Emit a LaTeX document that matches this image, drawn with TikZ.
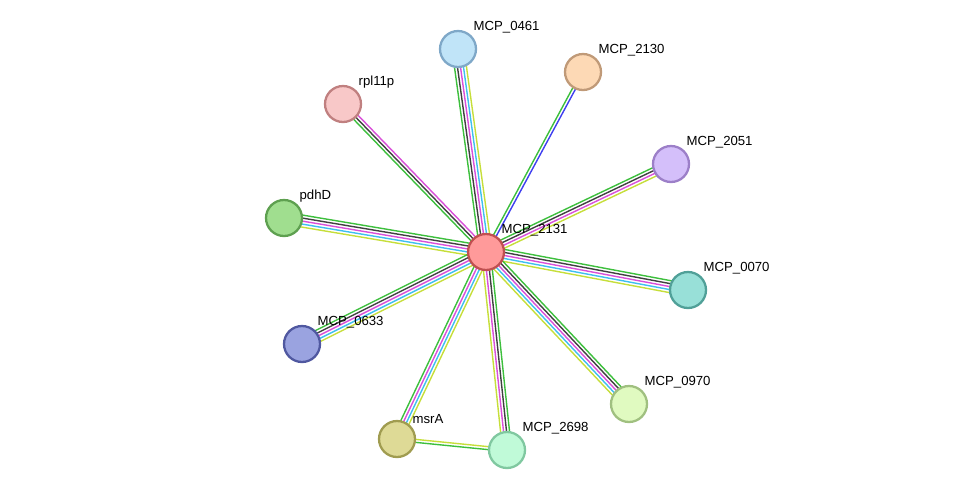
\documentclass[tikz,border=0pt]{standalone}
\usepackage{fontspec}
\setmainfont{Liberation Sans}
\usetikzlibrary{calc, backgrounds}
\definecolor{cgreen}{HTML}{3DBF3D}
\definecolor{cblack}{HTML}{404040}
\definecolor{cmag}{HTML}{D94FD9}
\definecolor{ccyan}{HTML}{3FBFEF}
\definecolor{cyel}{HTML}{C6DE3A}
\definecolor{cblue}{HTML}{3F3FEF}
\newcommand{\stredge}[4]{%
  \foreach \c [count=\i] in {#4} {
    \pgfmathsetmacro{\off}{(\i-(#3+1)/2)*1.7}
    \draw[\c, line width=0.8pt] ($(#1)!\off pt!90:(#2)$) -- ($(#2)!\off pt!-90:(#1)$);
  }}
\begin{document}
\begin{tikzpicture}[x=0.02cm, y=-0.02cm]
      \tikzset{prot/.style = {shape=circle, draw, line width=1.3pt, minimum size=0.72cm, inner sep=0pt}}
      \tikzset{lbl/.style = {font=\fontsize{7.5}{9}\selectfont, anchor=south west, inner sep=1pt}}
      \useasboundingbox (0,0) rectangle (976,495);
      \node[prot, fill={rgb,255:red,255;green,154;blue,154}, draw={rgb,255:red,192;green,80;blue,80}, label={[lbl]45:MCP\_2131}] (c) at (486, 252) {};
      \node[prot, fill={rgb,255:red,192;green,228;blue,248}, draw={rgb,255:red,127;green,168;blue,200}, label={[lbl]45:MCP\_0461}] (p0461) at (458, 49) {};
      \node[prot, fill={rgb,255:red,253;green,217;blue,181}, draw={rgb,255:red,192;green,154;blue,120}, label={[lbl]45:MCP\_2130}] (p2130) at (583, 72) {};
      \node[prot, fill={rgb,255:red,248;green,200;blue,200}, draw={rgb,255:red,192;green,128;blue,128}, label={[lbl]45:rpl11p}] (rpl) at (343, 104) {};
      \node[prot, fill={rgb,255:red,212;green,191;blue,250}, draw={rgb,255:red,156;green,127;blue,200}, label={[lbl]45:MCP\_2051}] (p2051) at (671, 164) {};
      \node[prot, fill={rgb,255:red,160;green,222;blue,143}, draw={rgb,255:red,94;green,160;blue,80}, label={[lbl]45:pdhD}] (pdh) at (284, 218) {};
      \node[prot, fill={rgb,255:red,152;green,224;blue,216}, draw={rgb,255:red,80;green,160;blue,152}, label={[lbl]45:MCP\_0070}] (p0070) at (688, 290) {};
      \node[prot, fill={rgb,255:red,154;green,163;blue,224}, draw={rgb,255:red,80;green,88;blue,160}, label={[lbl]45:MCP\_0633}] (p0633) at (302, 344) {};
      \node[prot, fill={rgb,255:red,224;green,250;blue,192}, draw={rgb,255:red,160;green,192;blue,128}, label={[lbl]45:MCP\_0970}] (p0970) at (629, 404) {};
      \node[prot, fill={rgb,255:red,222;green,218;blue,150}, draw={rgb,255:red,160;green,156;blue,80}, label={[lbl]45:msrA}] (msr) at (397, 439) {};
      \node[prot, fill={rgb,255:red,192;green,250;blue,216}, draw={rgb,255:red,128;green,200;blue,160}, label={[lbl]45:MCP\_2698}] (p2698) at (507, 450) {};
      \begin{scope}[on background layer]
        \stredge{c}{p0461}{5}{cyel,ccyan,cmag,cblack,cgreen}
        \stredge{c}{p2130}{2}{cblue,cgreen}
        \stredge{c}{rpl}{3}{cmag,cblack,cgreen}
        \stredge{c}{p2051}{4}{cyel,cmag,cblack,cgreen}
        \stredge{c}{pdh}{5}{cgreen,cblack,cmag,ccyan,cyel}
        \stredge{c}{p0070}{5}{cyel,ccyan,cmag,cblack,cgreen}
        \stredge{c}{p0633}{5}{cgreen,cblack,cmag,ccyan,cyel}
        \stredge{c}{p0970}{5}{cyel,ccyan,cmag,cblack,cgreen}
        \stredge{c}{msr}{4}{cgreen,cmag,ccyan,cyel}
        \stredge{c}{p2698}{4}{cyel,cmag,cblack,cgreen}
        \stredge{msr}{p2698}{2}{cgreen,cyel}
      \end{scope}
\end{tikzpicture}
\end{document}
